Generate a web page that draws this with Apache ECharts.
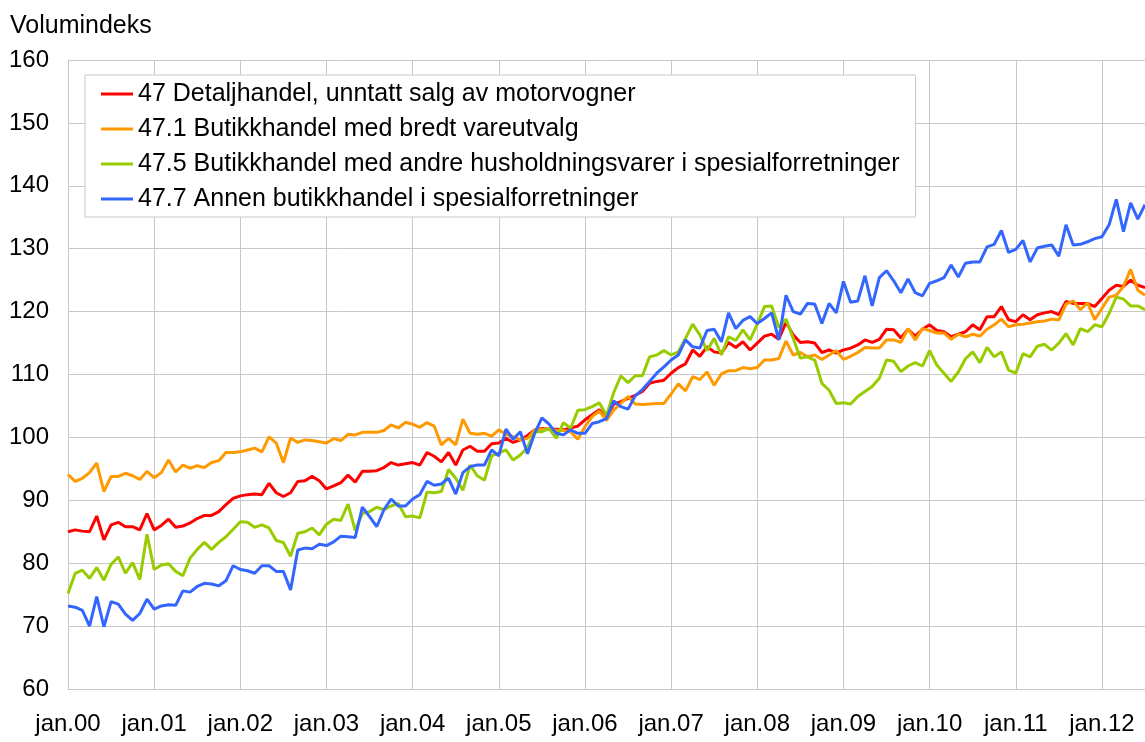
<!DOCTYPE html>
<html>
<head>
<meta charset="utf-8">
<script src="https://cdn.jsdelivr.net/npm/echarts@6/dist/echarts.min.js"></script>
<style>
html,body{margin:0;padding:0;background:#fff;}
#chart{width:1145px;height:742px;}
</style>
</head>
<body>
<div id="chart"></div>
<script>
const monthNames = ["jan","feb","mar","apr","mai","jun","jul","aug","sep","okt","nov","des"];
const yearLabels = ["00","01","02","03","04","05","06","07","08","09","10","11","12"];
const categories = [];
for (const y of yearLabels) for (const m of monthNames) categories.push(m + "." + y);
const nPoints = 151;
const cats = categories.slice(0, nPoints);

const seriesNames = [
  "47 Detaljhandel, unntatt salg av motorvogner",
  "47.1 Butikkhandel med bredt vareutvalg",
  "47.5 Butikkhandel med andre husholdningsvarer i spesialforretninger",
  "47.7 Annen butikkhandel i spesialforretninger"
];

const detaljhandel = [
85.0,85.3,85.1,85.0,87.5,83.7,86.1,86.5,85.8,85.8,85.3,87.9,
85.3,86.0,87.0,85.7,85.9,86.4,87.1,87.6,87.6,88.2,89.3,90.3,
90.7,90.9,91.0,90.9,92.7,91.2,90.6,91.2,93.0,93.1,93.8,93.1,
91.8,92.3,92.8,94.0,92.9,94.6,94.6,94.7,95.2,96.0,95.6,95.8,
96.0,95.6,97.6,97.0,96.1,97.6,95.6,98.0,98.6,97.8,97.8,99.0,
99.1,99.85,99.2,99.6,100.3,101.2,101.4,101.3,101.3,101.2,101.5,101.8,
102.8,103.6,104.4,103.2,105.3,105.7,106.2,106.7,107.3,108.6,108.9,109.1,
110.2,111.1,111.7,113.9,112.9,114.4,113.6,113.4,115.1,114.3,115.2,113.9,
115.0,116.1,116.4,115.6,118.3,116.3,115.1,115.2,115.0,113.5,113.9,113.4,
113.9,114.2,114.7,115.5,115.1,115.6,117.2,117.1,115.8,117.2,116.1,117.2,
117.9,117.0,116.8,116.0,116.4,116.8,117.9,117.1,119.2,119.2,120.8,118.7,
118.4,119.5,118.7,119.5,119.8,120.0,119.5,121.6,121.3,121.3,121.3,120.8,
122.1,123.4,124.2,124.0,125.0,124.2,123.8
];

const bredtVareutvalg = [
94.1,93.0,93.5,94.4,95.9,91.4,93.8,93.8,94.3,93.9,93.3,94.6,
93.6,94.4,96.4,94.5,95.6,95.1,95.5,95.2,96.0,96.3,97.6,97.6,
97.7,98.0,98.3,97.7,100.1,99.1,96.0,99.9,99.2,99.6,99.5,99.3,
99.1,99.8,99.5,100.5,100.4,100.8,100.8,100.8,101.1,102.0,101.5,102.4,
102.1,101.6,102.35,101.8,98.8,99.85,98.8,102.9,100.65,100.5,100.65,100.2,
101.2,100.5,100.1,99.6,99.85,101.2,101.3,101.3,101.1,101.1,100.9,99.7,
101.7,103.3,104.2,102.7,104.35,105.4,106.5,105.3,105.25,105.3,105.4,105.4,
106.9,108.5,107.4,109.65,109.2,110.4,108.3,110.1,110.6,110.6,111.1,110.9,
111.1,112.3,112.3,112.55,115.3,113.1,113.5,112.8,113.1,112.4,113.1,113.8,
112.4,112.9,113.5,114.3,114.2,114.2,115.5,115.5,115.1,117.3,115.5,117.3,
117.0,116.6,116.6,115.6,116.4,116.0,116.4,116.1,117.2,117.9,118.8,117.6,
117.9,118.0,118.2,118.4,118.5,118.8,118.7,121.2,121.7,120.3,121.4,118.7,
120.5,122.3,122.6,124.0,126.7,123.4,122.6
];

const husholdningsvarer = [
75.2,78.4,78.9,77.6,79.3,77.3,79.8,81.0,78.4,80.1,77.4,84.6,
79.0,79.7,79.9,78.7,78.0,80.8,82.2,83.3,82.2,83.3,84.2,85.4,
86.6,86.5,85.7,86.1,85.6,83.6,83.3,81.1,84.75,85.0,85.6,84.5,
86.2,87.0,86.8,89.4,85.2,87.9,88.2,88.9,88.5,89.1,89.5,87.4,
87.5,87.2,91.3,91.2,91.4,94.9,93.5,91.6,95.6,93.9,93.2,97.05,
97.5,98.0,96.4,97.2,98.4,100.9,100.9,101.45,99.85,102.35,101.45,104.3,
104.4,104.9,105.5,103.5,107.1,109.8,108.7,109.8,109.8,112.8,113.1,113.8,
113.1,113.6,115.75,118.0,116.3,113.8,115.75,113.1,116.0,115.4,117.1,115.5,
118.0,120.8,120.9,117.5,118.8,115.75,112.6,112.8,112.3,108.6,107.5,105.4,
105.5,105.3,106.5,107.3,108.1,109.4,112.3,112.1,110.45,111.35,111.9,111.35,
113.8,111.5,110.2,108.9,110.4,112.5,113.6,111.9,114.3,112.8,113.6,110.7,
110.2,113.3,112.8,114.5,114.8,113.9,115.0,116.5,114.7,117.3,116.8,117.9,
117.6,119.7,122.3,122.0,120.9,120.9,120.3
];

const annenSpesial = [
73.2,73.0,72.5,70.0,74.7,69.9,73.9,73.5,71.9,70.9,72.0,74.3,
72.7,73.2,73.4,73.3,75.6,75.4,76.3,76.8,76.7,76.4,77.2,79.6,
79.0,78.8,78.4,79.6,79.6,78.7,78.7,75.75,82.1,82.4,82.3,83.0,
82.8,83.4,84.3,84.2,84.1,88.9,87.4,85.8,88.5,90.2,89.1,89.1,
90.2,90.9,93.0,92.4,92.6,93.5,91.0,94.4,95.35,95.6,95.6,98.0,
97.05,101.3,99.7,100.9,97.4,100.65,103.1,102.1,100.65,100.4,101.2,100.65,
100.65,102.2,102.5,103.0,105.8,104.9,104.5,106.6,107.6,108.9,110.2,111.2,
112.3,113.1,115.5,114.4,114.2,117.0,117.2,115.2,119.8,117.3,118.6,119.2,
118.1,118.9,119.8,115.5,122.6,120.0,119.6,121.3,121.2,118.1,121.3,119.8,
124.8,121.5,121.7,125.7,120.9,125.4,126.5,124.9,123.0,125.2,123.0,122.5,
124.5,124.9,125.4,127.4,125.5,127.7,127.9,127.9,130.3,130.7,132.9,129.4,
129.9,131.3,127.9,130.1,130.4,130.6,128.8,133.8,130.6,130.7,131.1,131.6,
131.9,133.8,137.85,132.7,137.3,134.7,137.0
];

const seriesColors = ["#ff0000", "#ff9900", "#99cc00", "#3366ff"];
const seriesData = [detaljhandel, bredtVareutvalg, husholdningsvarer, annenSpesial];

const FONT = "'Liberation Sans', Arial, sans-serif";
const GRIDC = "#c8c8c8";

const chart = echarts.init(document.getElementById('chart'), null, {renderer: 'canvas'});
chart.setOption({
  animation: false,
  backgroundColor: '#ffffff',
  graphic: [{
    type: 'text', left: 10, top: 14,
    style: {text: 'Volumindeks', font: '25px ' + FONT, fill: '#000'}
  }],
  grid: {left: 68, top: 60, width: 1081, height: 629, containLabel: false},
  legend: {
    orient: 'vertical', left: 85, top: 75,
    backgroundColor: '#ffffff', borderColor: '#c8c8c8', borderWidth: 1,
    padding: [4, 16, 3, 16], itemGap: 5,
    icon: 'rect', itemWidth: 32, itemHeight: 3,
    textStyle: {fontFamily: FONT, fontSize: 25, color: '#000', lineHeight: 30},
    data: seriesNames
  },
  xAxis: {
    type: 'category', data: cats, boundaryGap: false,
    axisLine: {show: true, lineStyle: {color: GRIDC, width: 1}},
    axisTick: {show: false},
    splitLine: {show: true, interval: (i) => i % 12 === 0, lineStyle: {color: GRIDC, width: 1}},
    axisLabel: {
      interval: (i) => i % 12 === 0,
      fontFamily: FONT, fontSize: 24, color: '#000', margin: 23,
      formatter: (v) => v
    }
  },
  yAxis: {
    type: 'value', min: 60, max: 160, interval: 10,
    axisLine: {show: true, lineStyle: {color: GRIDC, width: 1}},
    axisTick: {show: false},
    splitLine: {show: true, lineStyle: {color: GRIDC, width: 1}},
    axisLabel: {fontFamily: FONT, fontSize: 24, color: '#000', margin: 19}
  },
  series: seriesNames.map((name, k) => ({
    name: name, type: 'line', data: seriesData[k],
    showSymbol: false, symbol: 'none',
    lineStyle: {color: seriesColors[k], width: 3},
    itemStyle: {color: seriesColors[k]},
    emphasis: {disabled: true}
  }))
});
</script>
</body>
</html>
